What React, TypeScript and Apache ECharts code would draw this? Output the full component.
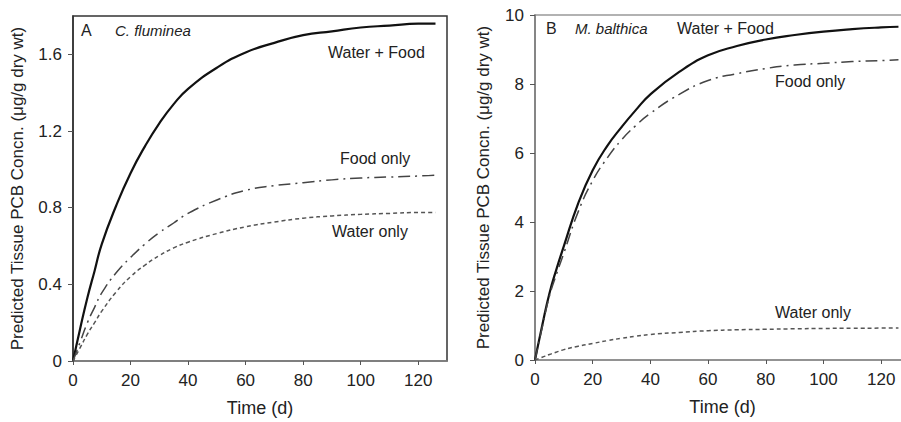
import React, { useEffect, useRef } from "react";
import * as echarts from "echarts";

const timeDays = [0, 2.5, 5, 7.5, 10, 15, 20, 25, 30, 35, 40, 50, 60, 70, 80, 90, 100, 110, 120, 126];

const aWaterFood = [0, 0.17, 0.33, 0.47, 0.61, 0.81, 0.98, 1.12, 1.24, 1.34, 1.42, 1.53, 1.61, 1.66, 1.7, 1.72, 1.74, 1.75, 1.76, 1.76];
const aFoodOnly = [0, 0.1, 0.2, 0.28, 0.355, 0.46, 0.54, 0.61, 0.67, 0.72, 0.77, 0.84, 0.89, 0.915, 0.93, 0.945, 0.955, 0.96, 0.965, 0.97];
const aWaterOnly = [0, 0.07, 0.14, 0.2, 0.26, 0.36, 0.44, 0.5, 0.55, 0.59, 0.62, 0.665, 0.7, 0.725, 0.745, 0.757, 0.765, 0.77, 0.775, 0.775];

const bWaterFood = [0, 1.0, 1.93, 2.65, 3.3, 4.55, 5.5, 6.2, 6.75, 7.25, 7.7, 8.35, 8.83, 9.1, 9.29, 9.42, 9.52, 9.59, 9.64, 9.66];
const bFoodOnly = [0, 0.95, 1.85, 2.5, 3.1, 4.3, 5.2, 5.85, 6.38, 6.8, 7.15, 7.7, 8.1, 8.3, 8.45, 8.55, 8.6, 8.65, 8.68, 8.7];
const bWaterOnly = [0, 0.08, 0.16, 0.23, 0.3, 0.4, 0.48, 0.56, 0.63, 0.69, 0.74, 0.8, 0.85, 0.875, 0.89, 0.905, 0.915, 0.92, 0.925, 0.93];

const xTicks = [0, 20, 40, 60, 80, 100, 120];
const aYTicks = [0, 0.4, 0.8, 1.2, 1.6];
const bYTicks = [0, 2, 4, 6, 8, 10];

const FONT = "Liberation Sans, Arial, sans-serif";
const yName = "Predicted Tissue PCB Concn. (\u03bcg/g dry wt)";

const pairs = (ys: number[]) => timeDays.map((t, i) => [t, ys[i]]);

export default function App() {
  const ref = useRef<HTMLDivElement>(null);
  useEffect(() => {
    document.body.style.margin = "0";
    if (!ref.current) return;
    const chart = echarts.init(ref.current, null, { renderer: "svg" });
    const xAxisBase = (gridIndex: number) => ({
      gridIndex,
      type: "value" as const,
      min: 0,
      max: 130,
      interval: 20,
      name: "Time (d)",
      nameLocation: "middle" as const,
      nameGap: 38,
      nameTextStyle: { fontFamily: FONT, fontSize: 18, color: "#222" },
      axisLine: { show: true, lineStyle: { color: "#888", width: 1.5 } },
      axisTick: { show: true, inside: false, length: 4, lineStyle: { color: "#555" }, customValues: xTicks },
      axisLabel: {
        fontFamily: FONT,
        fontSize: 17,
        color: "#222",
        margin: 11,
        customValues: xTicks,
        formatter: (v: number) => String(v),
      },
      splitLine: { show: false },
    });
    const yAxisBase = (gridIndex: number, max: number, gap: number, ticks: number[], lineColor: string) => ({
      gridIndex,
      type: "value" as const,
      min: 0,
      max,
      name: yName,
      nameLocation: "middle" as const,
      nameGap: gap,
      nameTextStyle: { fontFamily: FONT, fontSize: 17, color: "#222" },
      axisLine: { show: true, lineStyle: { color: lineColor, width: 1.5 } },
      axisTick: { show: true, inside: false, length: 5, lineStyle: { color: "#555" }, customValues: ticks },
      axisLabel: {
        fontFamily: FONT,
        fontSize: 17,
        color: "#222",
        margin: 11,
        customValues: ticks,
        formatter: (v: number) => String(Math.round(v * 10) / 10),
      },
      splitLine: { show: false },
    });
    const lineSeries = (xi: number, data: number[][], kind: "solid" | "food" | "water") => ({
      type: "line" as const,
      xAxisIndex: xi,
      yAxisIndex: xi,
      data,
      smooth: true,
      showSymbol: false,
      symbol: "none",
      lineStyle:
        kind === "solid"
          ? { color: "#111", width: 2.2, type: "solid" as const }
          : kind === "food"
          ? { color: "#444", width: 1.5, type: [12, 5, 2, 5] }
          : { color: "#555", width: 1.5, type: [4, 3] },
    });
    const txt = (x: number, y: number, text: string, italic = false, size = 16) => ({
      type: "text" as const,
      x,
      y,
      style: {
        text,
        fontFamily: FONT,
        fontSize: size,
        fontStyle: italic ? "italic" : "normal",
        fill: "#222",
        textVerticalAlign: "middle",
      },
    });
    chart.setOption({
      animation: false,
      backgroundColor: "#fff",
      grid: [
        { left: 73, top: 16, width: 374, height: 345, show: true, borderColor: "#333", borderWidth: 1.5, outerBoundsMode: "none", containLabel: false },
        { left: 535, top: 15, width: 375, height: 345, show: true, borderColor: "#999", borderWidth: 1.5, outerBoundsMode: "none", containLabel: false },
      ],
      xAxis: [xAxisBase(0), xAxisBase(1)],
      yAxis: [
        yAxisBase(0, 1.8, 47, aYTicks, "#333"),
        yAxisBase(1, 10, 43, bYTicks, "#777"),
      ],
      series: [
        lineSeries(0, pairs(aWaterFood), "solid"),
        lineSeries(0, pairs(aFoodOnly), "food"),
        lineSeries(0, pairs(aWaterOnly), "water"),
        lineSeries(1, pairs(bWaterFood), "solid"),
        lineSeries(1, pairs(bFoodOnly), "food"),
        lineSeries(1, pairs(bWaterOnly), "water"),
      ],
      graphic: [
        txt(81, 30, "A", false, 16),
        txt(115, 30, "C. fluminea", true, 15),
        txt(328, 52, "Water + Food"),
        txt(340, 158, "Food only"),
        txt(332, 231, "Water only"),
        txt(546, 28, "B", false, 16),
        txt(575, 28, "M. balthica", true, 15),
        txt(677, 28, "Water + Food"),
        txt(775, 81, "Food only"),
        txt(775, 312, "Water only"),
      ],
    });
    return () => chart.dispose();
  }, []);
  return <div ref={ref} style={{ width: 901, height: 422 }} />;
}
